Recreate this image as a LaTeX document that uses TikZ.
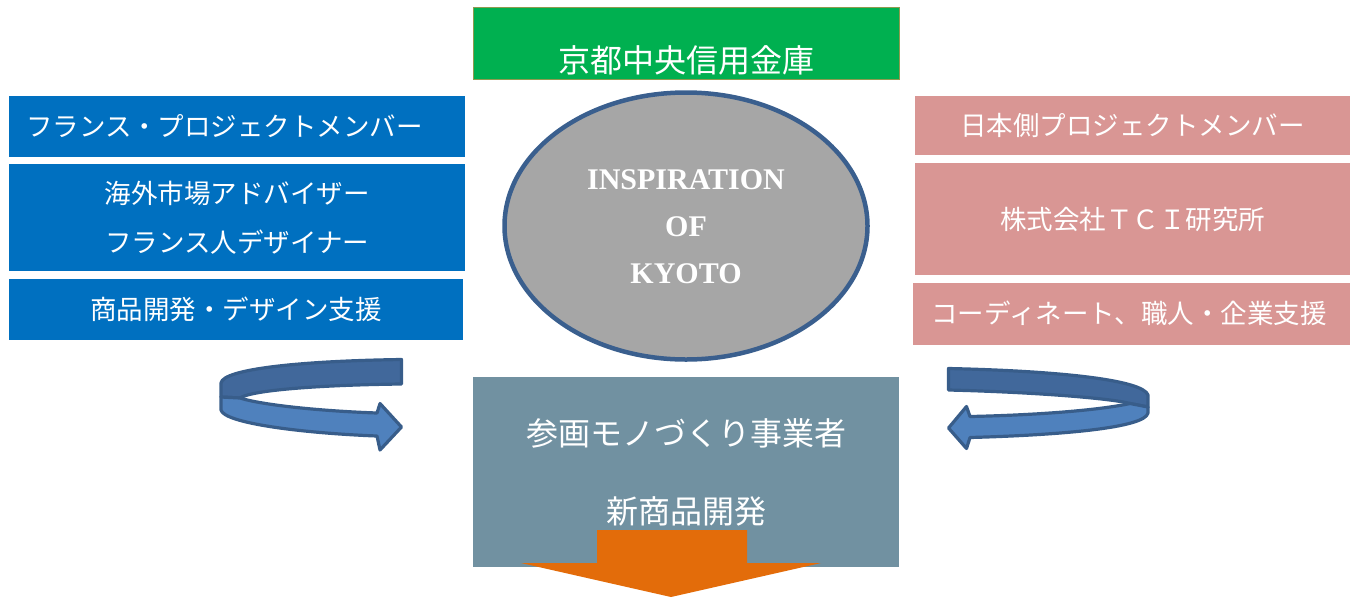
\documentclass[tikz,border=0pt]{standalone}
\usepackage{fontspec}
\setmainfont{Liberation Serif}
\newfontfamily\jpfont{Noto Sans CJK JP}
\usetikzlibrary{shapes.geometric}
\definecolor{kgreen}{HTML}{00B050}
\definecolor{kgreenb}{HTML}{8F9A4F}
\definecolor{kblue}{HTML}{0070C0}
\definecolor{kpink}{HTML}{D99694}
\definecolor{kgray}{HTML}{A6A6A6}
\definecolor{kellb}{HTML}{3A5F8E}
\definecolor{kslate}{HTML}{7191A1}
\definecolor{korange}{HTML}{E36C0A}
\definecolor{arrdark}{HTML}{41689B}
\definecolor{arrlight}{HTML}{4F81BD}
\definecolor{arrline}{HTML}{385D8A}
\begin{document}
\begin{tikzpicture}[x=1pt,y=-1pt,
  sidebox/.style={rectangle, inner sep=0pt, anchor=north west, text=white, align=center,
    font=\jpfont\fontsize{26.5}{49}\selectfont},
  bluebox/.style={sidebox, fill=kblue},
  pinkbox/.style={sidebox, fill=kpink},
  sidetext/.style={inner sep=0pt, text=white, font=\jpfont\fontsize{26.5}{49}\selectfont},
  bigtext/.style={inner sep=0pt, text=white, font=\jpfont\fontsize{32}{38}\selectfont},
  bandedge/.style={draw=arrline, line width=3.2pt, line join=round},
]
\useasboundingbox (0,0) rectangle (1356,598);

% top green box
\node[rectangle, inner sep=0pt, anchor=north west, fill=kgreen, draw=kgreenb, line width=1pt,
  minimum width=426, minimum height=72] (bank) at (473,7) {};
\node[bigtext] (banktxt) at (686,60) {京都中央信用金庫};

% left blue boxes
\node[bluebox, minimum width=456, minimum height=61] (fr1) at (9,96) {};
\node[sidetext] (fr1txt) at (224.5,126) {フランス・プロジェクトメンバー};
\node[bluebox, minimum width=456, minimum height=107] (fr2) at (9,164) {海外市場アドバイザー\\フランス人デザイナー};
\node[bluebox, minimum width=454, minimum height=61] (fr3) at (9,279) {商品開発・デザイン支援};

% right pink boxes
\node[pinkbox, minimum width=435, minimum height=59] (jp1) at (915,96) {日本側プロジェクトメンバー};
\node[pinkbox, minimum width=435, minimum height=112] (jp2) at (915,163) {株式会社ＴＣＩ研究所};
\node[pinkbox, minimum width=437, minimum height=62] (jp3) at (913,283) {};
\node[sidetext] (jp3txt) at (1129,313) {コーディネート、職人・企業支援};

% central ellipse
\node[ellipse, draw=kellb, line width=4.5pt, fill=kgray, inner sep=0pt,
  minimum width=363, minimum height=267] (insp) at (686,226) {};
\node[align=center, inner sep=0pt, text=white, font=\fontsize{30}{47}\selectfont\bfseries]
  (insptxt) at (686,227) {INSPIRATION\\OF\\KYOTO};

% bottom slate box
\node[rectangle, inner sep=0pt, anchor=north west, fill=kslate,
  minimum width=426, minimum height=190] (maker) at (473,377) {};
\node[bigtext] (makertxt1) at (686,433) {参画モノづくり事業者};
\node[bigtext] (makertxt2) at (686,511) {新商品開発};

% orange down arrow
\fill[korange] (597,530) -- (747,530) -- (747,563) -- (821,563) -- (671,597)
  -- (521,563) -- (597,563) -- cycle;

% left circular arrow
\filldraw[bandedge, fill=arrdark] (401.5,359.5) -- (401.5,384)
  .. controls (320,385) and (252,390) .. (240,398)
  -- (221,397) -- (221,383)
  .. controls (223,369) and (300,361) .. (401.5,359.5) -- cycle;
\filldraw[bandedge, fill=arrlight] (221,397) -- (240,398)
  .. controls (262,405) and (320,411) .. (377,413)
  -- (380,403.5) -- (401.5,427) -- (380,450) -- (377,436)
  .. controls (300,433) and (224,423) .. (221,410) -- cycle;

% right circular arrow
\filldraw[bandedge, fill=arrdark] (948.5,368.5) -- (948.5,390)
  .. controls (1030,392) and (1110,398) .. (1130,403.5)
  -- (1148,407) -- (1148,395)
  .. controls (1143,380) and (1060,371) .. (948.5,368.5) -- cycle;
\filldraw[bandedge, fill=arrlight] (1148,407) -- (1130,403.5)
  .. controls (1100,410) and (1040,415) .. (970,416.5)
  -- (966.5,406.5) -- (948.5,428) -- (966.5,448.5) -- (970,437.5)
  .. controls (1060,435) and (1145,428) .. (1148,413) -- cycle;
\end{tikzpicture}
\end{document}
